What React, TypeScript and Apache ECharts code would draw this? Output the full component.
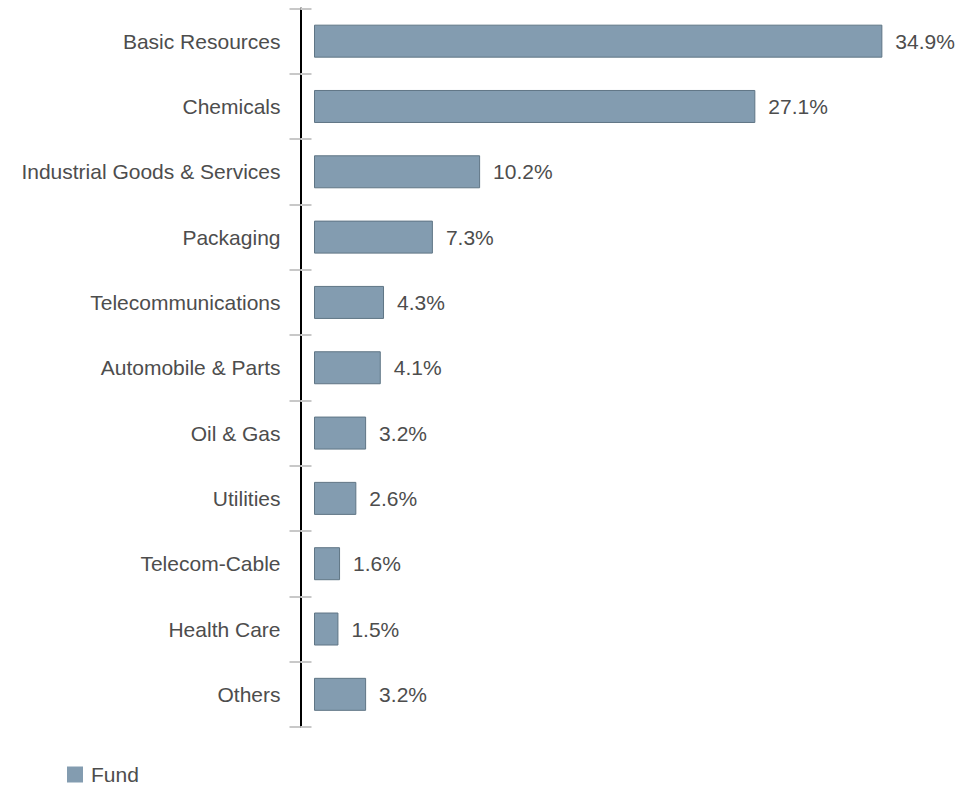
import React, { useEffect, useRef } from "react";
import * as echarts from "echarts";

const categories = [
  "Basic Resources",
  "Chemicals",
  "Industrial Goods & Services",
  "Packaging",
  "Telecommunications",
  "Automobile & Parts",
  "Oil & Gas",
  "Utilities",
  "Telecom-Cable",
  "Health Care",
  "Others",
];
const fundValues = [34.9, 27.1, 10.2, 7.3, 4.3, 4.1, 3.2, 2.6, 1.6, 1.5, 3.2];
const seriesName = "Fund";

export default function App() {
  const ref = useRef<HTMLDivElement>(null);
  useEffect(() => {
    document.body.style.margin = "0";
    const chart = echarts.init(ref.current!, null, { renderer: "svg" });
    const font = "Arial, 'Liberation Sans', Helvetica, sans-serif";
    chart.setOption({
      animation: false,
      grid: { left: 314, right: 94, top: 8.5, bottom: 58, containLabel: false },
      xAxis: {
        type: "value",
        min: 0,
        max: 35,
        show: false,
      },
      yAxis: [
        {
          type: "category",
          data: categories,
          inverse: true,
          position: "left",
          offset: 13.5,
          axisLine: { show: true, onZero: false, lineStyle: { color: "#000", width: 2 } },
          axisTick: { show: true, inside: false, length: 11, lineStyle: { color: "#c8c8c8", width: 2 } },
          axisLabel: { color: "#4d4d4d", fontSize: 21, fontFamily: font, margin: 20 },
          splitLine: { show: false },
        },
        {
          type: "category",
          data: categories,
          inverse: true,
          position: "left",
          offset: 13.5,
          axisLine: { show: false, onZero: false },
          axisTick: { show: true, inside: true, length: 11, lineStyle: { color: "#c8c8c8", width: 2 } },
          axisLabel: { show: false },
          splitLine: { show: false },
        },
      ],
      legend: {
        left: 67,
        top: 764,
        padding: 0,
        itemWidth: 16,
        itemHeight: 16,
        icon: "rect",
        itemStyle: { borderWidth: 0 },
        textStyle: { color: "#4d4d4d", fontSize: 21, fontFamily: font, padding: [0, 0, 0, 3] },
        data: [seriesName],
      },
      series: [
        {
          name: seriesName,
          type: "bar",
          yAxisIndex: 0,
          data: fundValues,
          barWidth: 33,
          itemStyle: { color: "#839cb0", borderColor: "#5f7585", borderWidth: 1 },
          label: {
            show: true,
            position: "right",
            distance: 13,
            formatter: (p: any) => p.value.toFixed(1) + "%",
            color: "#4d4d4d",
            fontSize: 21,
            fontFamily: font,
          },
        },
      ],
    });
    return () => chart.dispose();
  }, []);
  return <div ref={ref} style={{ width: 978, height: 785 }} />;
}
